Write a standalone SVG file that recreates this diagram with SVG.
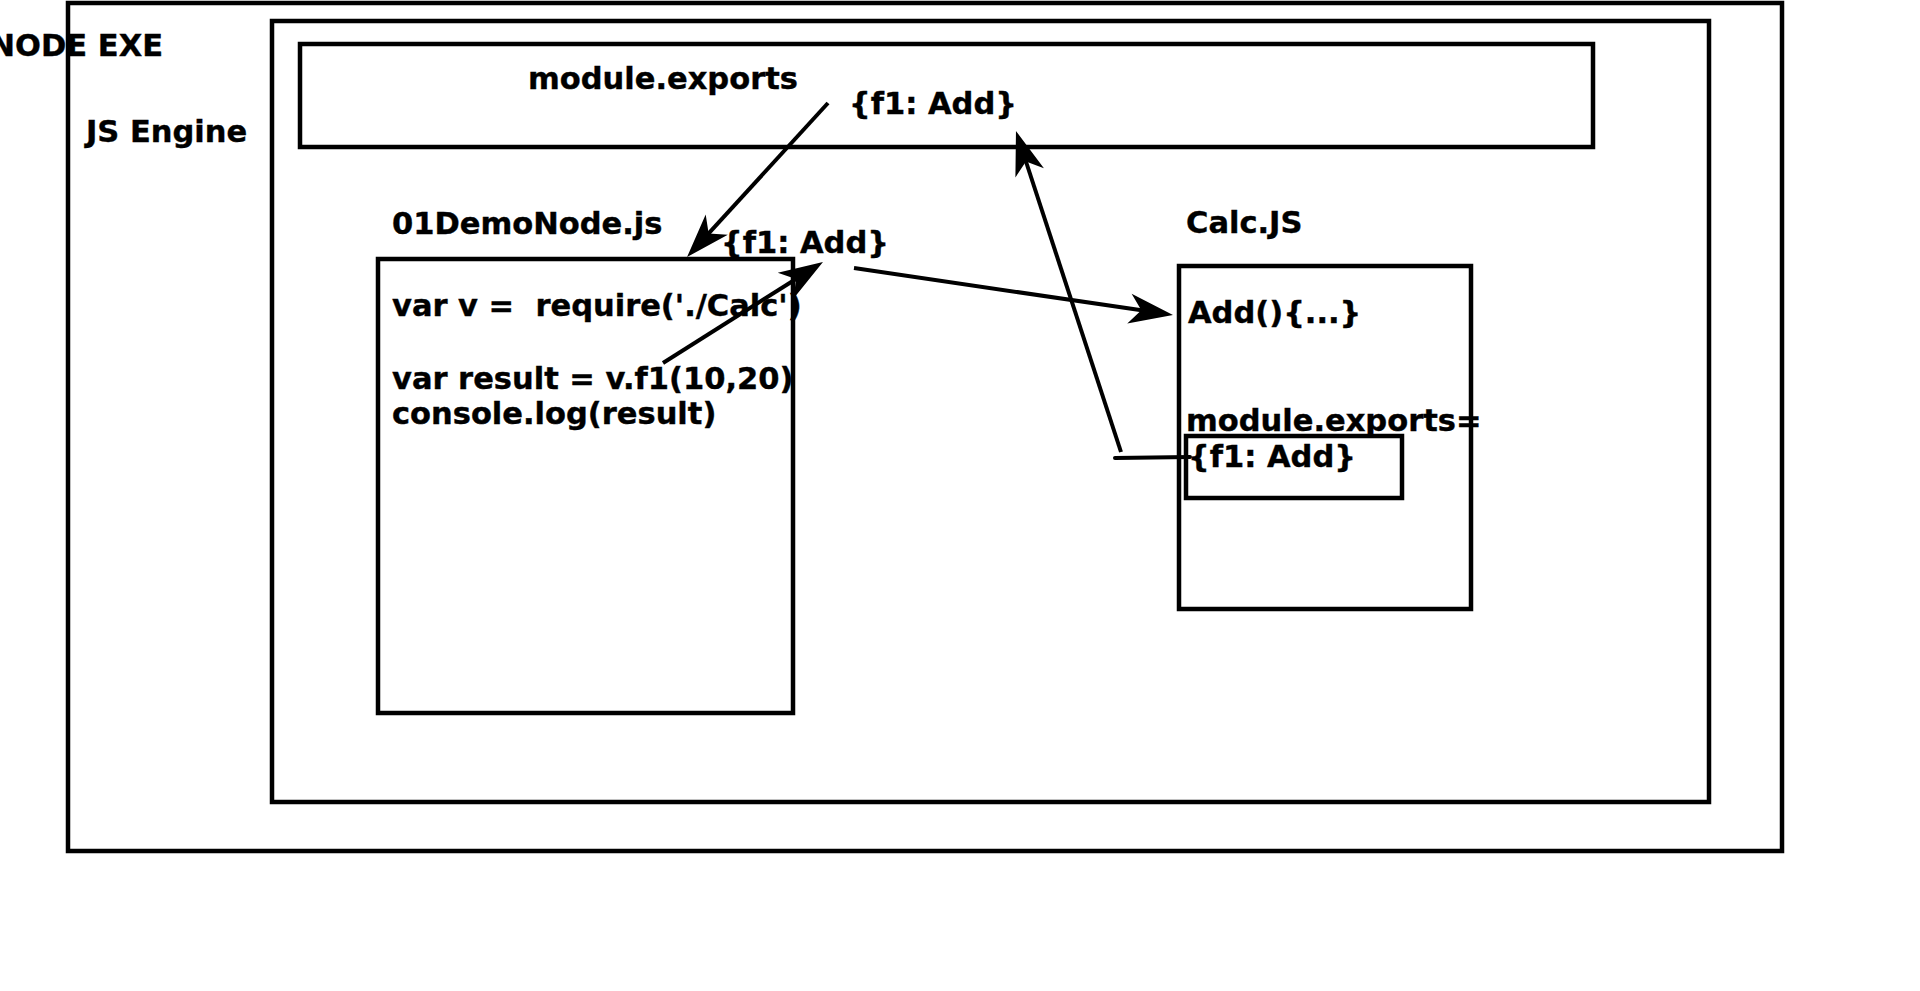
<svg xmlns="http://www.w3.org/2000/svg" width="1920" height="991" viewBox="0 0 1920 991">
<style>
.box{fill:none;stroke:#000;stroke-width:4.5}
.t{font-family:"DejaVu Sans","Liberation Sans",sans-serif;font-weight:bold;font-size:30.5px;fill:#000;stroke:#000;stroke-width:0.4}
.c{fill:none;stroke:#000;stroke-width:4;marker-end:url(#arr)}
.p{fill:none;stroke:#000;stroke-width:4;stroke-linecap:round}
</style>
<defs>
<marker id="arr" markerUnits="userSpaceOnUse" viewBox="-20 -20 60 40" markerWidth="60" markerHeight="40" refX="0" refY="0" orient="auto">
<path d="M30,0 L-14,-15 L-2,0 L-14,15 Z" fill="#000"/>
</marker>
</defs>
<rect width="1920" height="991" fill="#fff"/>
<g id="node-exe">
<rect class="box" x="68" y="3" width="1714" height="848"/>
<text class="t" x="163" y="56" text-anchor="end">NODE EXE</text>
</g>
<g id="js-engine">
<rect class="box" x="272" y="21" width="1437" height="781"/>
<text class="t" x="86" y="142">JS Engine</text>
</g>
<g id="module-exports">
<rect class="box" x="300" y="44" width="1293" height="103"/>
<text class="t" x="528" y="89">module.exports</text>
<text class="t" x="849" y="114">{f1: Add}</text>
</g>
<g id="demo-node">
<text class="t" x="392" y="234">01DemoNode.js</text>
<rect class="box" x="378" y="259" width="415" height="454"/>
<text class="t" x="392" y="316" xml:space="preserve">var v =  require('./Calc')</text>
<text class="t" x="392" y="389">var result = v.f1(10,20)</text>
<text class="t" x="392" y="424">console.log(result)</text>
</g>
<g id="f1-label">
<text class="t" x="721" y="253">{f1: Add}</text>
</g>
<g id="calc">
<text class="t" x="1186" y="233">Calc.JS</text>
<rect class="box" x="1179" y="266" width="292" height="343"/>
<text class="t" x="1188" y="323">Add(){...}</text>
<text class="t" x="1186" y="431">module.exports=</text>
</g>
<g id="calc-exports">
<rect class="box" x="1186" y="436" width="216" height="62"/>
<text class="t" x="1188" y="467">{f1: Add}</text>
</g>
<g id="connectors">
<path class="c" d="M828,103 L707.3,234.9"/>
<path class="c" d="M663,363 L797.6,278"/>
<path class="c" d="M854,268 L1143.3,310.6"/>
<path class="c" d="M1121,452 L1025.3,159.5"/>
<path class="p" d="M1115,458 L1190,457"/>
</g>
</svg>
